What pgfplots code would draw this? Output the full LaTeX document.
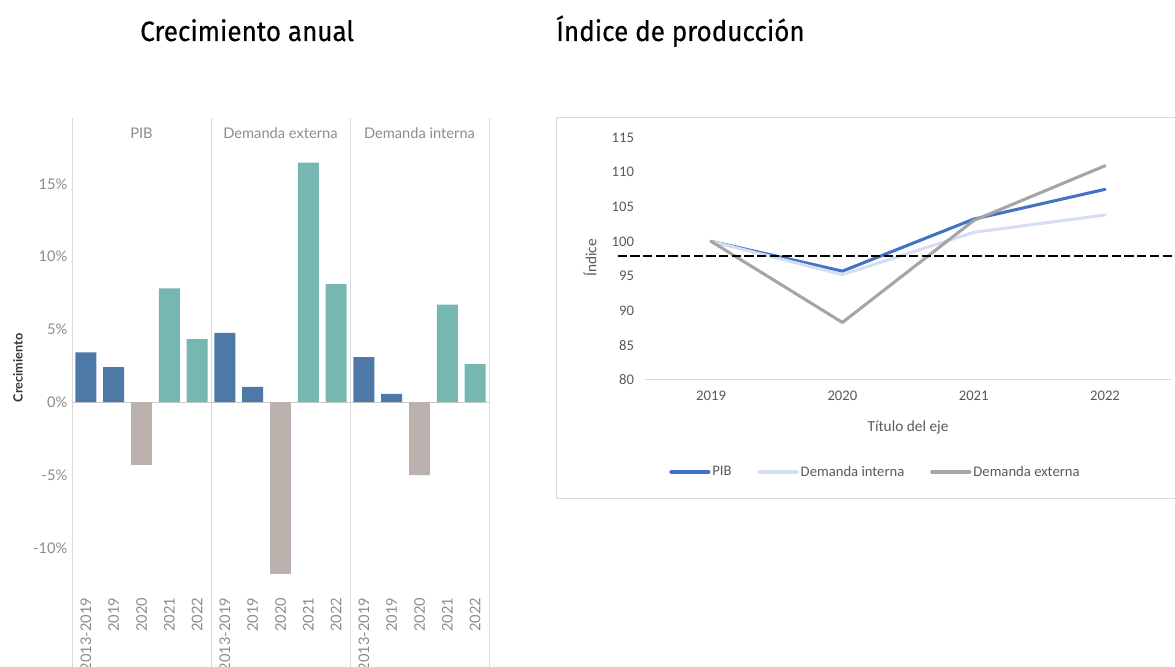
\documentclass[border=0pt]{standalone}
\usepackage{fontspec}
\usepackage{pgfplots}
\pgfplotsset{compat=1.18}
\setmainfont{Lato}
\newfontfamily\tabfont{Lato}
\newfontfamily\xlfont{Carlito}
\newfontfamily\titlefont[FakeStretch=0.93, FakeBold=0.4]{Fira Sans}
\definecolor{tblue}{HTML}{4E79A7}
\definecolor{tgray}{HTML}{BAB0AC}
\definecolor{tteal}{HTML}{76B7B2}
\definecolor{xblue}{HTML}{4472C4}
\definecolor{xlight}{HTML}{D6DFF2}
\definecolor{xgray}{HTML}{A5A5A5}
\definecolor{labgray}{HTML}{8C8C8C}
\definecolor{xlab}{HTML}{595959}
\definecolor{divgray}{HTML}{D9D9D9}
\begin{document}
\begin{tikzpicture}
\useasboundingbox (0pt,0pt) rectangle (881.25pt,500.25pt);
\clip (0pt,0pt) rectangle (881.25pt,500.25pt);
% titles
\node[font=\titlefont\fontsize{21}{25}\selectfont, anchor=base west, inner sep=0pt] at (105pt,469.5pt) {Crecimiento anual};
\node[font=\titlefont\fontsize{21}{25}\selectfont, anchor=base west, inner sep=0pt] at (417pt,469.5pt) {Índice de producción};
% ---------- left chart ----------
\begin{axis}[
  at={(54pt,55.5pt)}, anchor=south west,
  width=312.75pt, height=337.5pt, scale only axis,
  xmin=-0.5, xmax=14.5, ymin=-13.1, ymax=17.8,
  axis line style={draw=none}, major tick length=0pt,
  xtick={0,...,14},
  xticklabels={2013-2019,2019,2020,2021,2022,2013-2019,2019,2020,2021,2022,2013-2019,2019,2020,2021,2022},
  xticklabel style={rotate=90, anchor=east, font=\tabfont\fontsize{11}{13}\selectfont, text=labgray},
  ytick={-10,-5,0,5,10,15},
  yticklabels={-10\%,-5\%,0\%,5\%,10\%,15\%},
  yticklabel style={font=\tabfont\fontsize{11}{13}\selectfont, text=labgray},
  ylabel={Crecimiento},
  ylabel style={font=\tabfont\bfseries\fontsize{9.5}{11}\selectfont, text=black!80, at={(rel axis cs:-0.1295,0.5)}, anchor=center},
  clip=false,
]
\draw[divgray, line width=0.6pt] (axis cs:-0.5,-19) -- (axis cs:-0.5,19.5);
\draw[divgray, line width=0.6pt] (axis cs:4.5,-19) -- (axis cs:4.5,19.5);
\draw[divgray, line width=0.6pt] (axis cs:9.5,-19) -- (axis cs:9.5,19.5);
\draw[divgray, line width=0.6pt] (axis cs:14.5,-19) -- (axis cs:14.5,19.5);
\draw[black!20, line width=0.5pt] (axis cs:-0.5,0) -- (axis cs:14.5,0);
\node[font=\tabfont\fontsize{11}{13}\selectfont, text=labgray] at (axis cs:2,18.5) {PIB};
\node[font=\tabfont\fontsize{11}{13}\selectfont, text=labgray] at (axis cs:7,18.5) {Demanda externa};
\node[font=\tabfont\fontsize{11}{13}\selectfont, text=labgray] at (axis cs:12,18.5) {Demanda interna};
% blue: 2013-2019 and 2019
\addplot[ybar, bar width=0.755, bar shift=0, fill=tblue, draw=none] coordinates {
  (0,3.42) (1,2.41) (5,4.76) (6,1.05) (10,3.09) (11,0.57)};
% gray: 2020
\addplot[ybar, bar width=0.755, bar shift=0, fill=tgray, draw=none] coordinates {
  (2,-4.31) (7,-11.78) (12,-5.00)};
% teal: 2021, 2022
\addplot[ybar, bar width=0.755, bar shift=0, fill=tteal, draw=none] coordinates {
  (3,7.81) (4,4.33) (8,16.45) (9,8.11) (13,6.71) (14,2.61)};
\end{axis}
% ---------- right chart ----------
\draw[divgray, line width=0.75pt] (417pt,126pt) rectangle (895pt,411.75pt);
\begin{axis}[
  at={(484.05pt,215.25pt)}, anchor=south west,
  width=393.98pt, height=182.0pt, scale only axis,
  xmin=2018.5, xmax=2022.5, ymin=80, ymax=115,
  xtick={2019,2020,2021,2022}, ytick={80,85,...,115},
  axis x line*=bottom, axis y line*=left,
  x axis line style={draw=divgray, line width=0.75pt, -},
  y axis line style={draw=none},
  major tick length=0pt,
  /pgf/number format/assume math mode=true,
  /pgf/number format/1000 sep={},
  xticklabel style={font=\xlfont\fontsize{11}{13}\selectfont, text=xlab, yshift=-5pt},
  yticklabel style={font=\xlfont\fontsize{11}{13}\selectfont, text=xlab, xshift=-5pt},
  xlabel={Título del eje},
  xlabel style={font=\xlfont\fontsize{11.5}{13}\selectfont, text=xlab, at={(rel axis cs:0.5,-0.194)}, anchor=center},
  ylabel={Índice},
  ylabel style={font=\xlfont\fontsize{11.5}{13}\selectfont, text=xlab, at={(rel axis cs:-0.1055,0.503)}, anchor=center},
  clip=false,
  legend columns=3,
  legend style={at={(rel axis cs:0.438,-0.379)}, anchor=center, draw=none, fill=none,
    font=\xlfont\fontsize{11}{13}\selectfont, text=xlab,
    nodes={inner sep=1.5pt},
    /tikz/every even column/.append style={column sep=18pt}},
  legend image code/.code={\draw[#1, line width=2.8pt] (0pt,0pt) -- (28pt,0pt);},
  every axis plot/.append style={line join=round, line cap=round},
]
\addplot[xblue, line width=2.3pt] coordinates {(2019,100) (2020,95.7) (2021,103.2) (2022,107.5)};
\addlegendentry{PIB}
\addplot[xlight, line width=2.3pt] coordinates {(2019,100) (2020,95.2) (2021,101.3) (2022,103.8)};
\addlegendentry{Demanda interna}
\addplot[xgray, line width=2.3pt] coordinates {(2019,100) (2020,88.3) (2021,103.0) (2022,110.9)};
\addlegendentry{Demanda externa}
\addplot[black, line width=1.5pt, dash pattern=on 7pt off 2.5pt, line cap=butt, forget plot] coordinates {(2018.29,97.9) (2023.2,97.9)};
\end{axis}
\end{tikzpicture}
\end{document}
